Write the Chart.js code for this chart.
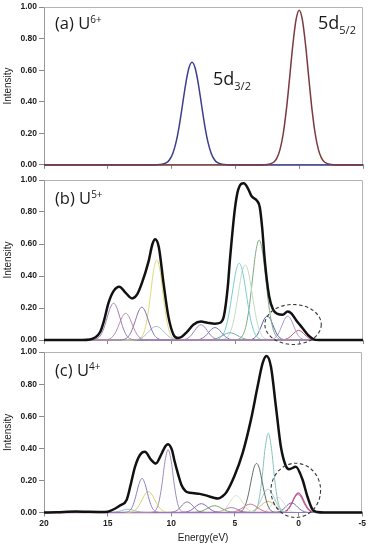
<!DOCTYPE html>
<html><head><meta charset="utf-8">
<script src="https://cdn.jsdelivr.net/npm/chart.js@4.4.0/dist/chart.umd.min.js"></script>
<style>
html,body{margin:0;padding:0;background:#fff;width:368px;height:544px;overflow:hidden;position:relative;}
canvas{position:absolute;left:0;}
.lbl{position:absolute;font-family:"Open Sans","Noto Sans",sans-serif;color:#1a1a1a;line-height:1;white-space:nowrap;z-index:5;}
.sup{font-size:10px;position:relative;top:-6px;}
.sub{font-size:11px;position:relative;top:5px;}
</style></head>
<body>
<canvas id="pa" width="368" height="172" style="top:0px"></canvas>
<canvas id="pb" width="368" height="178" style="top:170px"></canvas>
<canvas id="pc" width="368" height="199" style="top:345px"></canvas>
<div class="lbl" style="left:55px;top:15px;font-size:16.5px">(a) U<span class="sup">6+</span></div>
<div class="lbl" style="left:55px;top:190px;font-size:16.5px">(b) U<span class="sup">5+</span></div>
<div class="lbl" style="left:55px;top:362px;font-size:16.5px">(c) U<span class="sup">4+</span></div>
<div class="lbl" style="left:213px;top:69px;font-size:18px">5d<span class="sub">3/2</span></div>
<div class="lbl" style="left:318px;top:13px;font-size:18px">5d<span class="sub">5/2</span></div>
<script>
// ---- axis ticks ----
const energyTicks = [20, 15, 10, 5, 0, -5];
const intensityTicks = [0, 0.2, 0.4, 0.6, 0.8, 1.0];

// ---- (a) U6+ ----
const a_5d32 = [[20,0],[11.4,0],[10.9,0.002],[10.4,0.014],[10.15,0.034],[9.9,0.074],[9.65,0.144],[9.4,0.248],[9.15,0.378],[8.9,0.511],[8.65,0.612],[8.4,0.65],[8.15,0.612],[7.9,0.511],[7.65,0.378],[7.4,0.248],[7.15,0.144],[6.9,0.074],[6.65,0.034],[6.4,0.014],[5.9,0.002],[5.4,0],[-5,0]];
const a_5d52 = [[20,0],[3,0],[2.5,0.002],[2.0,0.017],[1.75,0.043],[1.5,0.098],[1.25,0.199],[1.0,0.353],[0.75,0.552],[0.5,0.76],[0.25,0.919],[0,0.98],[-0.25,0.919],[-0.5,0.76],[-0.75,0.552],[-1.0,0.353],[-1.25,0.199],[-1.5,0.098],[-1.75,0.043],[-2.0,0.017],[-2.5,0.002],[-3,0],[-5,0]];

// ---- (b) U5+ ----
const b_total = [[20,0],[17,0],[16.4,0.003],[16.0,0.015],[15.6,0.05],[15.3,0.12],[14.95,0.23],[14.55,0.305],[14.1,0.333],[13.6,0.295],[13.1,0.26],[12.7,0.285],[12.33,0.355],[11.81,0.49],[11.5,0.6],[11.29,0.63],[11.0,0.58],[10.64,0.36],[10.25,0.146],[9.86,0.035],[9.5,0.012],[9.2,0.02],[8.8,0.05],[8.3,0.095],[7.7,0.115],[7.2,0.108],[6.6,0.102],[6.2,0.108],[5.9,0.15],[5.6,0.33],[5.43,0.5],[5.04,0.82],[4.78,0.94],[4.34,0.98],[4.0,0.945],[3.74,0.9],[3.3,0.87],[3.09,0.83],[2.9,0.7],[2.7,0.5],[2.36,0.275],[2.05,0.19],[1.7,0.163],[1.3,0.158],[0.9,0.178],[0.6,0.165],[0.25,0.125],[0,0.1],[-0.3,0.07],[-0.7,0.03],[-1.1,0.006],[-1.5,0],[-5,0]];
const b_c1 = [[20,0],[16.3,0],[16.05,0.0025],[15.8,0.010],[15.55,0.031],[15.3,0.075],[15.05,0.14],[14.8,0.203],[14.55,0.23],[14.3,0.203],[14.05,0.14],[13.8,0.075],[13.55,0.031],[13.3,0.010],[13.05,0.0025],[12.8,0],[-5,0]];
const b_c2 = [[20,0],[15.35,0],[15.1,0.002],[14.85,0.007],[14.6,0.023],[14.35,0.054],[14.1,0.101],[13.85,0.147],[13.6,0.167],[13.35,0.147],[13.1,0.101],[12.85,0.054],[12.6,0.023],[12.35,0.007],[12.1,0.002],[11.85,0],[-5,0]];
const b_c3 = [[20,0],[14.08,0],[13.83,0.002],[13.58,0.009],[13.33,0.028],[13.08,0.067],[12.83,0.124],[12.58,0.181],[12.33,0.205],[12.08,0.181],[11.83,0.124],[11.58,0.067],[11.33,0.028],[11.08,0.009],[10.83,0.002],[10.58,0],[-5,0]];
const b_c4 = [[20,0],[12.91,0],[12.66,0.003],[12.41,0.014],[12.16,0.05],[11.91,0.135],[11.66,0.28],[11.41,0.435],[11.16,0.5],[10.91,0.435],[10.66,0.28],[10.41,0.135],[10.16,0.05],[9.91,0.014],[9.66,0.003],[9.41,0],[-5,0]];
const b_c5 = [[20,0],[13.5,0],[13.2,0.0003],[12.7,0.004],[12.45,0.01],[12.2,0.021],[11.95,0.039],[11.7,0.06],[11.45,0.078],[11.2,0.085],[10.95,0.078],[10.7,0.06],[10.45,0.039],[10.2,0.021],[9.95,0.01],[9.7,0.004],[9.2,0.0003],[8.9,0],[-5,0]];
const b_c6 = [[20,0],[9.7,0],[9.2,0.001],[8.95,0.004],[8.7,0.013],[8.45,0.031],[8.2,0.058],[7.95,0.084],[7.7,0.095],[7.45,0.084],[7.2,0.058],[6.95,0.031],[6.7,0.013],[6.45,0.004],[6.2,0.001],[5.7,0],[-5,0]];
const b_c7 = [[20,0],[8.6,0],[8.1,0.001],[7.85,0.003],[7.6,0.011],[7.35,0.025],[7.1,0.047],[6.85,0.069],[6.6,0.078],[6.35,0.069],[6.1,0.047],[5.85,0.025],[5.6,0.011],[5.35,0.003],[5.1,0.001],[4.6,0],[-5,0]];
const b_c8 = [[20,0],[7.7,0],[7.2,0.001],[6.93,0.002],[6.68,0.005],[6.43,0.011],[6.18,0.021],[5.93,0.032],[5.68,0.041],[5.43,0.045],[5.18,0.041],[4.93,0.032],[4.68,0.021],[4.43,0.011],[4.18,0.005],[3.93,0.002],[3.4,0],[-5,0]];
const b_c9 = [[20,0],[6.95,0],[6.7,0.0007],[6.45,0.003],[6.2,0.012],[5.95,0.036],[5.7,0.092],[5.45,0.19],[5.2,0.318],[4.95,0.433],[4.7,0.48],[4.45,0.433],[4.2,0.318],[3.95,0.19],[3.7,0.092],[3.45,0.036],[3.2,0.012],[2.95,0.003],[2.7,0.0007],[2.45,0],[-5,0]];
const b_c10 = [[20,0],[6.48,0],[6.23,0.0007],[5.98,0.003],[5.73,0.0114],[5.48,0.0355],[5.23,0.09],[4.98,0.186],[4.73,0.311],[4.48,0.424],[4.23,0.47],[3.98,0.424],[3.73,0.311],[3.48,0.186],[3.23,0.09],[2.98,0.0355],[2.73,0.0114],[2.48,0.003],[2.23,0.0007],[1.98,0],[-5,0]];
const b_c11 = [[20,0],[5.14,0],[4.89,0.0022],[4.64,0.0098],[4.39,0.035],[4.14,0.098],[3.89,0.221],[3.64,0.394],[3.39,0.557],[3.14,0.625],[2.89,0.557],[2.64,0.394],[2.39,0.221],[2.14,0.098],[1.89,0.035],[1.64,0.0098],[1.39,0.0022],[1.14,0],[-5,0]];
const b_c12 = [[20,0],[4.0,0],[3.75,0.003],[3.5,0.013],[3.25,0.0375],[3.0,0.081],[2.75,0.129],[2.5,0.15],[2.25,0.129],[2.0,0.081],[1.75,0.0375],[1.5,0.013],[1.25,0.003],[1.0,0],[-5,0]];
const b_c13 = [[20,0],[2.4,0],[2.15,0.003],[1.9,0.013],[1.65,0.0375],[1.4,0.081],[1.15,0.129],[0.9,0.15],[0.65,0.129],[0.4,0.081],[0.15,0.0375],[-0.1,0.013],[-0.35,0.003],[-0.6,0],[-5,0]];
const b_c14 = [[20,0],[1.55,0],[1.3,0.001],[1.05,0.005],[0.8,0.015],[0.55,0.032],[0.3,0.051],[0.05,0.06],[-0.2,0.051],[-0.45,0.032],[-0.7,0.015],[-0.95,0.005],[-1.2,0.001],[-1.45,0],[-5,0]];
const b_ring = [0.48, 0.097, 2.21, 0.125]; // centre E, centre I, half-width (eV), half-height

// ---- (c) U4+ ----
const c_total = [[20,0],[19,0.002],[17.5,0.006],[16.5,0.004],[15.5,0.003],[15,0.005],[14.8,0.01],[14.4,0.025],[14.0,0.045],[13.5,0.08],[13.2,0.17],[12.85,0.285],[12.45,0.36],[12.07,0.378],[11.6,0.33],[11.21,0.305],[10.8,0.36],[10.45,0.415],[10.25,0.426],[9.95,0.39],[9.73,0.316],[9.45,0.235],[9.2,0.172],[8.9,0.135],[8.69,0.125],[8.2,0.12],[7.77,0.116],[7.2,0.105],[6.6,0.09],[6.34,0.087],[6.0,0.1],[5.69,0.124],[5.04,0.228],[4.39,0.372],[3.74,0.579],[3.22,0.785],[2.83,0.93],[2.52,0.976],[2.17,0.909],[1.78,0.66],[1.39,0.41],[1.0,0.29],[0.74,0.27],[0.22,0.285],[-0.3,0.207],[-0.69,0.1],[-1.08,0.02],[-1.47,0.003],[-2,0],[-5,0]];
const c_c1 = [[20,0],[13.8,0],[13.55,0.0016],[13.3,0.009],[13.05,0.037],[12.8,0.098],[12.55,0.175],[12.3,0.213],[12.05,0.175],[11.8,0.098],[11.55,0.037],[11.3,0.009],[11.05,0.0016],[10.8,0],[-5,0]];
const c_c2 = [[20,0],[13.55,0],[13.3,0.0014],[13.05,0.006],[12.8,0.018],[12.55,0.042],[12.3,0.079],[12.05,0.115],[11.8,0.13],[11.55,0.115],[11.3,0.079],[11.05,0.042],[10.8,0.018],[10.55,0.006],[10.3,0.0014],[10.05,0],[-5,0]];
const c_c3 = [[20,0],[11.75,0],[11.5,0.002],[11.25,0.012],[11.0,0.056],[10.75,0.165],[10.5,0.316],[10.25,0.392],[10.0,0.316],[9.75,0.165],[9.5,0.056],[9.25,0.012],[9.0,0.002],[8.75,0],[-5,0]];
const c_c4 = [[20,0],[10.25,0],[10.0,0.0014],[9.75,0.0056],[9.5,0.0165],[9.25,0.036],[9.0,0.057],[8.75,0.066],[8.5,0.057],[8.25,0.036],[8.0,0.0165],[7.75,0.0056],[7.5,0.0014],[7.25,0],[-5,0]];
const c_c5 = [[20,0],[9.4,0],[9.14,0.0006],[8.89,0.0024],[8.64,0.0074],[8.39,0.018],[8.14,0.033],[7.89,0.0485],[7.64,0.055],[7.39,0.0485],[7.14,0.033],[6.89,0.018],[6.64,0.0074],[6.39,0.0024],[6.14,0.0006],[5.9,0],[-5,0]];
const c_c6 = [[20,0],[8.6,0],[8.1,0.001],[7.85,0.004],[7.6,0.009],[7.35,0.018],[7.1,0.028],[6.85,0.038],[6.6,0.042],[6.35,0.038],[6.1,0.028],[5.85,0.018],[5.6,0.009],[5.35,0.004],[5.1,0.001],[4.6,0],[-5,0]];
const c_c7 = [[20,0],[6.65,0],[6.4,0.0012],[6.15,0.0046],[5.9,0.014],[5.65,0.034],[5.4,0.064],[5.15,0.093],[4.9,0.105],[4.65,0.093],[4.4,0.064],[4.15,0.034],[3.9,0.014],[3.65,0.0046],[3.4,0.0012],[3.15,0],[-5,0]];
const c_c8 = [[20,0],[5.8,0],[5.3,0.001],[5.05,0.004],[4.8,0.011],[4.55,0.022],[4.3,0.035],[4.05,0.047],[3.8,0.052],[3.55,0.047],[3.3,0.035],[3.05,0.022],[2.8,0.011],[2.55,0.004],[2.3,0.001],[1.8,0],[-5,0]];
const c_c9 = [[20,0],[4.95,0],[4.7,0.002],[4.45,0.0107],[4.2,0.041],[3.95,0.11],[3.7,0.209],[3.5,0.28],[3.3,0.306],[3.1,0.28],[2.9,0.209],[2.65,0.11],[2.4,0.041],[2.15,0.0107],[1.9,0.002],[1.65,0],[-5,0]];
const c_c10 = [[20,0],[3.88,0],[3.63,0.002],[3.38,0.015],[3.13,0.071],[2.88,0.208],[2.63,0.399],[2.38,0.495],[2.13,0.399],[1.88,0.208],[1.63,0.071],[1.38,0.015],[1.13,0.002],[0.88,0],[-5,0]];
const c_c11 = [[20,0],[4.15,0],[3.9,0.0016],[3.65,0.0064],[3.4,0.0196],[3.15,0.047],[2.9,0.088],[2.65,0.128],[2.4,0.145],[2.15,0.128],[1.9,0.088],[1.65,0.047],[1.4,0.0196],[1.15,0.0064],[0.9,0.0016],[0.65,0],[-5,0]];
const c_c12 = [[20,0],[3.1,0],[2.85,0.002],[2.6,0.008],[2.35,0.024],[2.1,0.051],[1.85,0.081],[1.6,0.095],[1.35,0.081],[1.1,0.051],[0.85,0.024],[0.6,0.008],[0.35,0.002],[0.1,0],[-5,0]];
const c_c13 = [[20,0],[4.4,0],[3.9,0.002],[3.65,0.006],[3.4,0.015],[3.15,0.03],[2.9,0.048],[2.65,0.063],[2.4,0.07],[2.15,0.063],[1.9,0.048],[1.65,0.03],[1.4,0.015],[1.15,0.006],[0.9,0.002],[0.4,0],[-5,0]];
const c_c14 = [[20,0],[2.05,0],[1.8,0.001],[1.55,0.005],[1.3,0.015],[1.05,0.032],[0.8,0.051],[0.55,0.06],[0.3,0.051],[0.05,0.032],[-0.2,0.015],[-0.45,0.005],[-0.7,0.001],[-0.95,0],[-5,0]];
const c_c15 = [[20,0],[1.52,0],[1.27,0.0015],[1.02,0.0072],[0.77,0.025],[0.52,0.06],[0.27,0.102],[0.02,0.122],[-0.23,0.102],[-0.48,0.06],[-0.73,0.025],[-0.98,0.0072],[-1.23,0.0015],[-1.48,0],[-5,0]];
const c_c16 = [[20,0],[1.55,0],[1.3,0.0014],[1.05,0.0066],[0.8,0.023],[0.55,0.055],[0.3,0.094],[0.05,0.112],[-0.2,0.094],[-0.45,0.055],[-0.7,0.023],[-0.95,0.0066],[-1.2,0.0014],[-1.45,0],[-5,0]];
const c_c17 = [[20,0],[15.2,0],[14.9,0.0002],[14.4,0.0027],[14.15,0.0065],[13.9,0.012],[13.65,0.0176],[13.4,0.02],[13.15,0.0176],[12.9,0.012],[12.65,0.0065],[12.4,0.0027],[11.9,0.0002],[11.6,0],[-5,0]];
const c_c18 = [[20,0],[7.0,0],[6.55,0.001],[6.3,0.004],[6.05,0.01],[5.8,0.019],[5.55,0.027],[5.3,0.03],[5.05,0.027],[4.8,0.019],[4.55,0.01],[4.3,0.004],[4.05,0.001],[3.6,0],[-5,0]];
const c_ring = [0.22, 0.138, 1.95, 0.169];

const FONT = '"Liberation Sans", Arial, sans-serif';

const framePlugin = {
  id: 'frame',
  beforeDatasetsDraw(chart) {
    const a = chart.chartArea, ctx = chart.ctx;
    ctx.save();
    ctx.strokeStyle = '#b4b4b4';
    ctx.lineWidth = 1;
    ctx.beginPath();
    ctx.moveTo(Math.round(a.left) + 0.5, Math.round(a.top) + 0.5);
    ctx.lineTo(Math.round(a.right) - 0.5, Math.round(a.top) + 0.5);
    ctx.lineTo(Math.round(a.right) - 0.5, Math.round(a.bottom));
    ctx.stroke();
    ctx.restore();
  }
};
const ringPlugin = {
  id: 'ring',
  afterDatasetsDraw(chart, args, opts) {
    const r = opts && opts.v;
    if (!r) return;
    const xs = chart.scales.x, ys = chart.scales.y, ctx = chart.ctx;
    const cx = xs.getPixelForValue(r[0]), cy = ys.getPixelForValue(r[1]);
    const rx = Math.abs(xs.getPixelForValue(r[0] + r[2]) - cx);
    const ry = Math.abs(ys.getPixelForValue(r[1] + r[3]) - cy);
    ctx.save();
    ctx.setLineDash([3.5, 2.5]);
    ctx.strokeStyle = '#3a3a3a';
    ctx.lineWidth = 1.1;
    ctx.beginPath();
    ctx.ellipse(cx, cy, rx, ry, 0, 0, Math.PI * 2);
    ctx.stroke();
    ctx.restore();
  }
};

function panel(id, sets, opt) {
  return new Chart(document.getElementById(id), {
    type: 'line',
    data: {
      datasets: sets.map(s => ({
        data: s[0].map(p => ({x: p[0], y: p[1]})),
        borderColor: s[1], borderWidth: s[2] || 1,
        pointRadius: 0, fill: false, cubicInterpolationMode: 'monotone', clip: false
      }))
    },
    options: {
      responsive: false, animation: false, devicePixelRatio: 1,
      layout: {padding: {top: opt.top, right: 5, left: 0, bottom: 0}},
      plugins: {legend: {display: false}, tooltip: {enabled: false}, ring: {v: opt.ring || null}},
      scales: {
        x: {
          type: 'linear', min: -5, max: 20, reverse: true,
          afterBuildTicks: s => { s.ticks = energyTicks.map(v => ({value: v})); },
          afterFit: s => { s.height = opt.xh; },
          ticks: {display: opt.xlab, autoSkip: false, maxRotation: 0, padding: 2,
                  color: '#222', font: {family: FONT, size: 8.5, weight: 'bold'}},
          grid: {drawOnChartArea: false, drawTicks: true, tickLength: 4, color: '#8a8a8a'},
          border: {color: '#999'},
          title: {display: opt.xlab, text: 'Energy(eV)', color: '#222',
                  font: {family: FONT, size: 10}, padding: {top: 0, bottom: 0}}
        },
        y: {
          min: 0, max: 1,
          afterBuildTicks: s => { s.ticks = intensityTicks.map(v => ({value: v})); },
          afterFit: s => { s.width = 44; },
          ticks: {callback: v => Number(v).toFixed(2), padding: 2, color: '#222',
                  font: {family: FONT, size: 8.5, weight: 'bold'}},
          grid: {drawOnChartArea: false, drawTicks: true, tickLength: 5, color: '#8a8a8a'},
          border: {color: '#999'},
          title: {display: true, text: 'Intensity', color: '#222',
                  font: {family: FONT, size: 10}, padding: {top: 2, bottom: 0}}
        }
      }
    },
    plugins: [framePlugin, ringPlugin]
  });
}

panel('pa', [
  [a_5d52, '#7a3a3e', 1.5],
  [a_5d32, '#3c3f8c', 1.5]
], {top: 6, xh: 5, xlab: false});

panel('pb', [
  [b_total, '#111', 2.5],
  [b_c1, '#9c7fb0'], [b_c2, '#b88aa8'], [b_c3, '#8a6cb0'], [b_c4, '#e0d878'],
  [b_c5, '#9cc0d0'], [b_c6, '#9a80b8'], [b_c7, '#7a78c0'], [b_c8, '#70b0a8'],
  [b_c9, '#78cccc'], [b_c10, '#c0dcc0'], [b_c11, '#80a880'], [b_c12, '#5860a8'],
  [b_c13, '#a898cc'], [b_c14, '#c05868']
], {top: 10, xh: 8, xlab: false, ring: b_ring});

panel('pc', [
  [c_total, '#111', 2.5],
  [c_c1, '#8a7cc0'], [c_c2, '#d8d070'], [c_c3, '#a08ab8'], [c_c4, '#8a7a9a'],
  [c_c5, '#8a60c0'], [c_c6, '#70a860'], [c_c7, '#dedcc4'], [c_c8, '#d07090'],
  [c_c9, '#607068'], [c_c10, '#88c0c0'], [c_c11, '#a0d0c8'], [c_c12, '#d0dcd4'],
  [c_c13, '#d8b070'], [c_c14, '#6a6ab8'], [c_c15, '#c05890', 1.3], [c_c16, '#9a70b0'],
  [c_c17, '#80c8d0'], [c_c18, '#a070c0']
], {top: 6, xh: 31.5, xlab: true, ring: c_ring});
</script>
</body></html>
